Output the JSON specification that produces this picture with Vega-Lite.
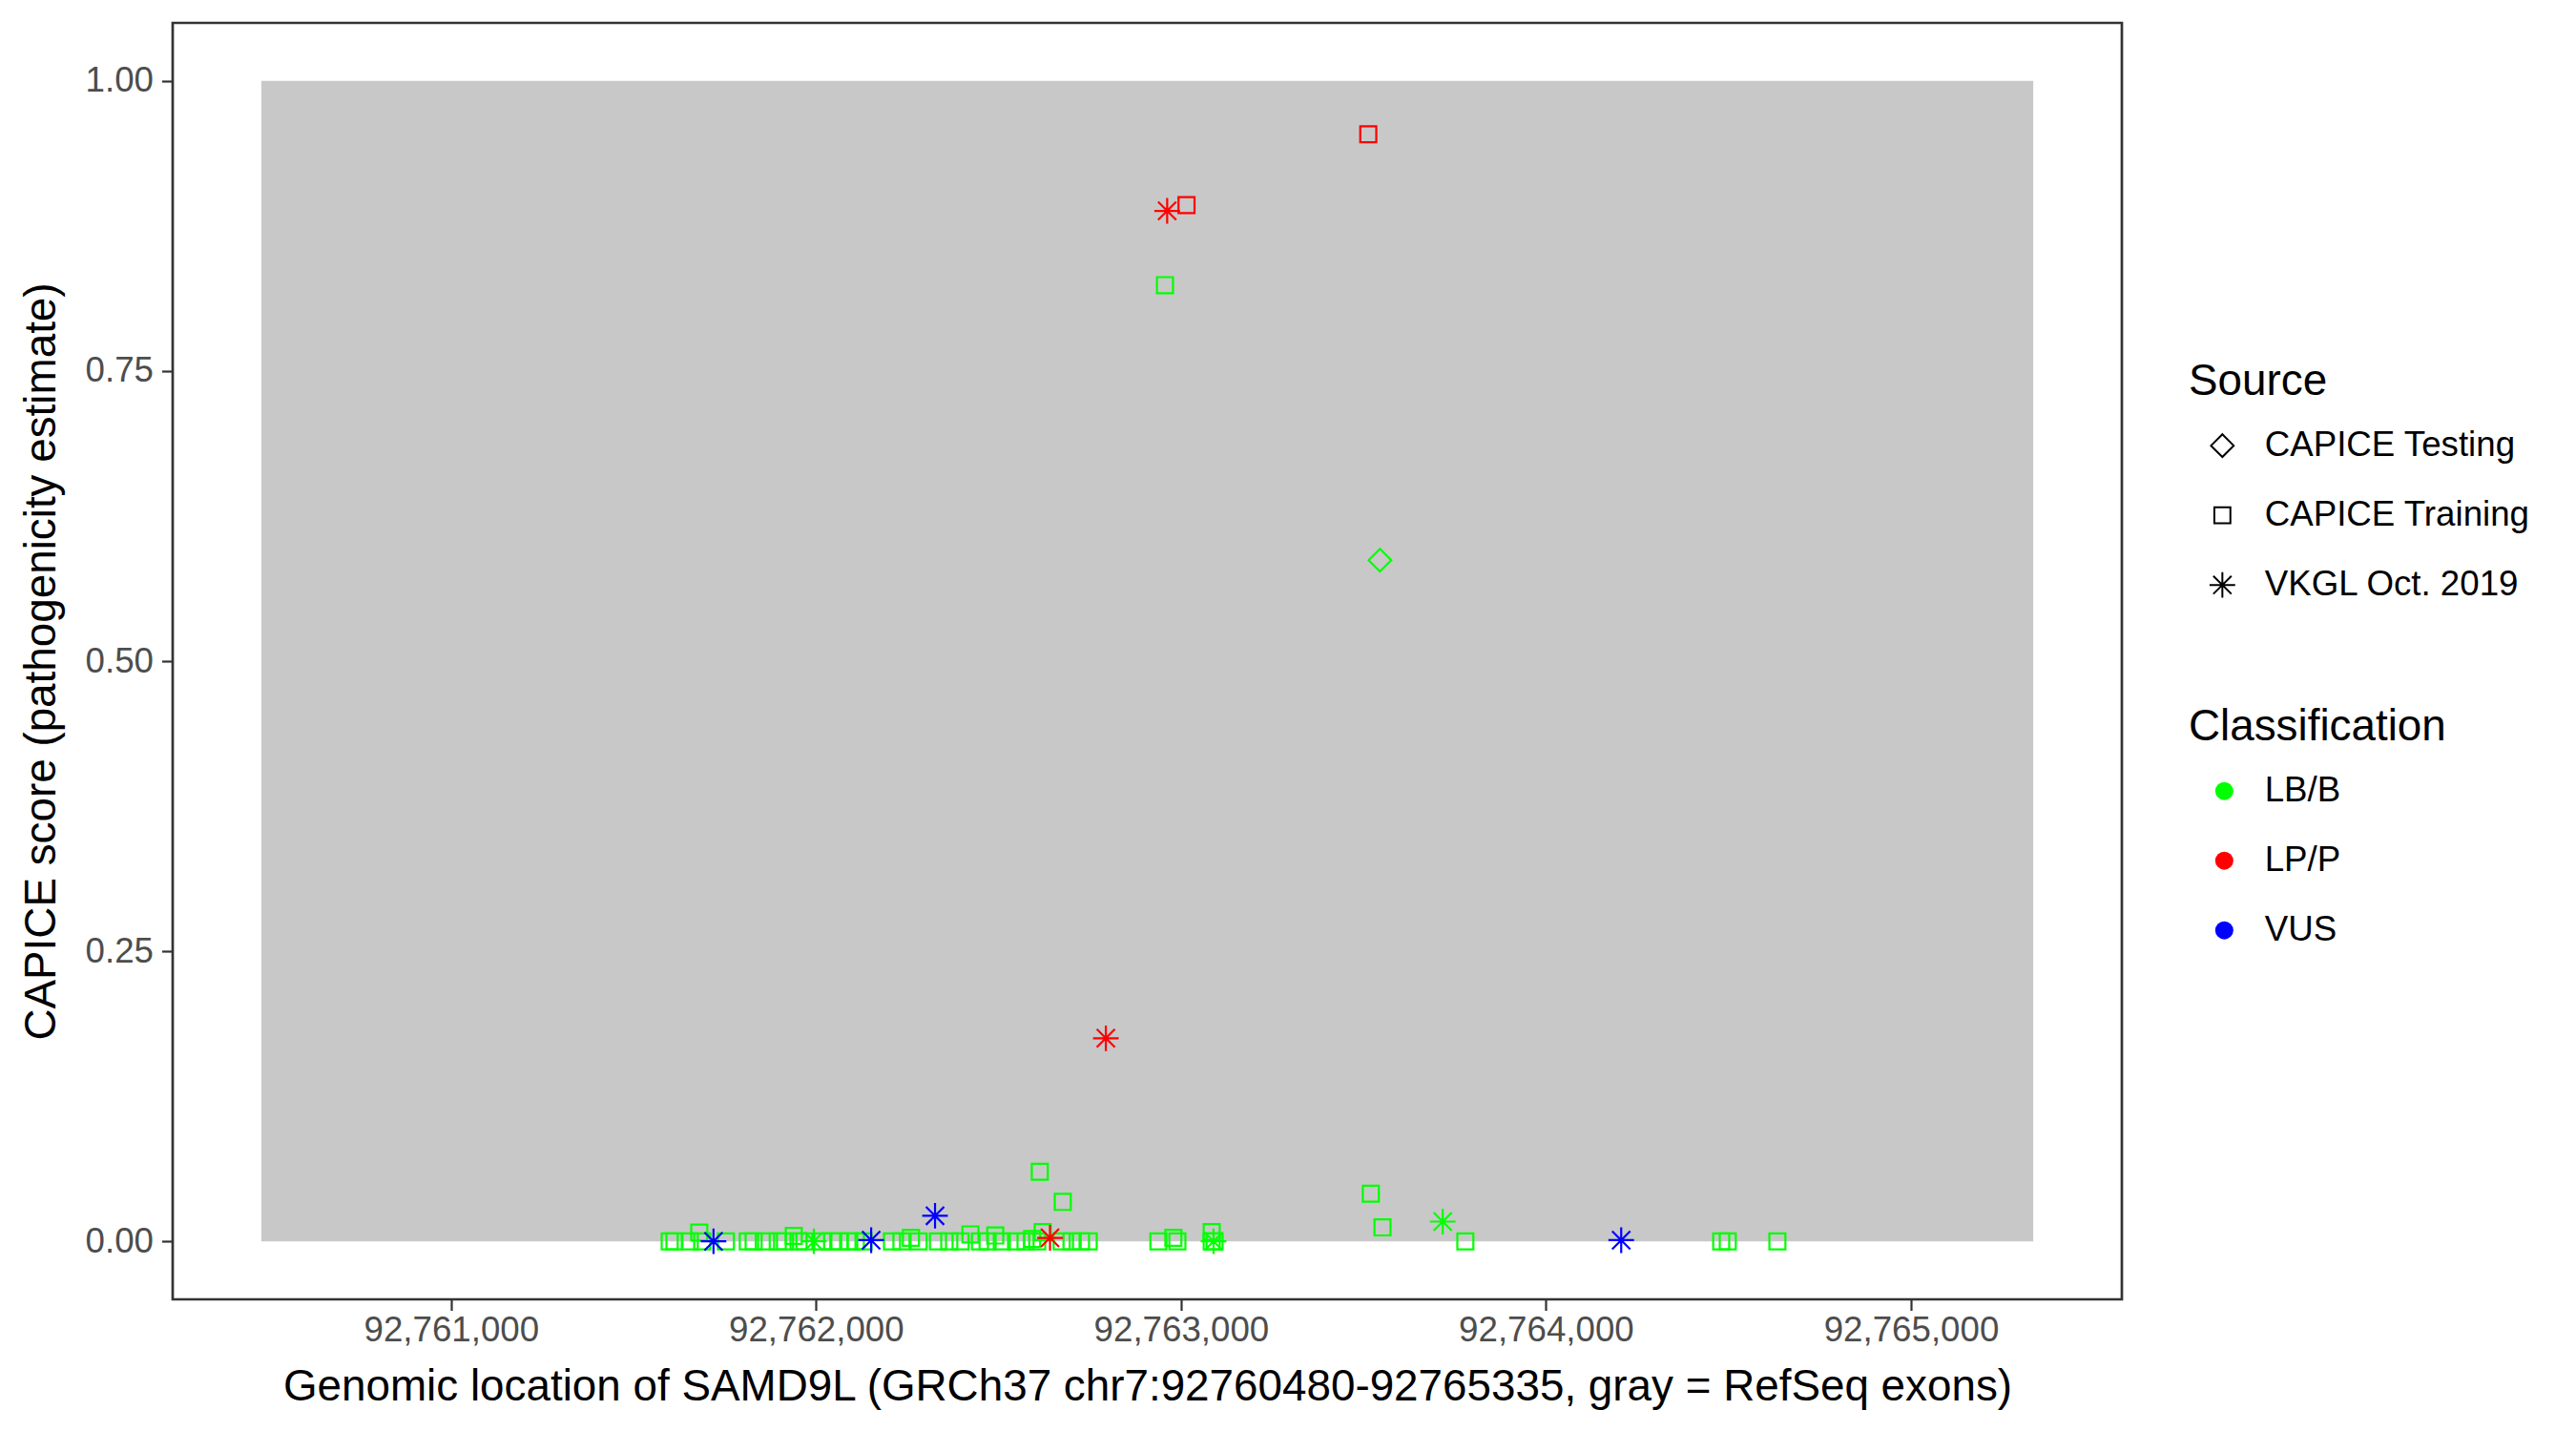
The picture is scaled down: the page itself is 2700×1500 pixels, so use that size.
{
  "$schema": "https://vega.github.io/schema/vega-lite/v6.json",
  "width": 2043,
  "height": 1338,
  "autosize": {"type": "none"},
  "padding": {"left": 181, "top": 24, "right": 476, "bottom": 138},
  "background": "white",
  "config": {
    "font": "Liberation Sans",
    "view": {"stroke": "#333333", "strokeWidth": 2.7},
    "axis": {
      "domain": false,
      "grid": false,
      "tickColor": "#333333",
      "tickWidth": 2.2,
      "tickSize": 11.5,
      "labelFont": "Liberation Sans",
      "labelFontSize": 36.7,
      "labelColor": "#4D4D4D",
      "labelPadding": 9,
      "labelLimit": 0,
      "titleFont": "Liberation Sans",
      "titleFontSize": 45.8,
      "titleColor": "black",
      "titleFontWeight": "normal",
      "titleLimit": 0
    },
    "legend": {
      "titleFont": "Liberation Sans",
      "labelFont": "Liberation Sans",
      "titleFontSize": 45.8,
      "titleFontWeight": "normal",
      "titleColor": "black",
      "titleLimit": 0,
      "labelFontSize": 36.7,
      "labelColor": "black",
      "labelLimit": 0,
      "padding": 0,
      "symbolBaseStrokeColor": "black",
      "symbolBaseFillColor": "transparent",
      "symbolStrokeWidth": 2
    }
  },
  "datasets": {
    "exons": [{"start": 92760480, "end": 92765335, "ymin": 0, "ymax": 1}],
    "variants": [
      {"position": 92761599, "score": 0, "source": "CAPICE Training", "classification": "LB/B"},
      {"position": 92761612, "score": 0, "source": "CAPICE Training", "classification": "LB/B"},
      {"position": 92761654, "score": 0, "source": "CAPICE Training", "classification": "LB/B"},
      {"position": 92761680, "score": 0.0075, "source": "CAPICE Training", "classification": "LB/B"},
      {"position": 92761688, "score": 0, "source": "CAPICE Training", "classification": "LB/B"},
      {"position": 92761753, "score": 0, "source": "CAPICE Training", "classification": "LB/B"},
      {"position": 92761813, "score": 0, "source": "CAPICE Training", "classification": "LB/B"},
      {"position": 92761829, "score": 0, "source": "CAPICE Training", "classification": "LB/B"},
      {"position": 92761863, "score": 0, "source": "CAPICE Training", "classification": "LB/B"},
      {"position": 92761895, "score": 0, "source": "CAPICE Training", "classification": "LB/B"},
      {"position": 92761915, "score": 0, "source": "CAPICE Training", "classification": "LB/B"},
      {"position": 92761939, "score": 0.0047, "source": "CAPICE Training", "classification": "LB/B"},
      {"position": 92761952, "score": 0, "source": "CAPICE Training", "classification": "LB/B"},
      {"position": 92761968, "score": 0, "source": "CAPICE Training", "classification": "LB/B"},
      {"position": 92762017, "score": 0, "source": "CAPICE Training", "classification": "LB/B"},
      {"position": 92762044, "score": 0, "source": "CAPICE Training", "classification": "LB/B"},
      {"position": 92762064, "score": 0, "source": "CAPICE Training", "classification": "LB/B"},
      {"position": 92762091, "score": 0, "source": "CAPICE Training", "classification": "LB/B"},
      {"position": 92762109, "score": 0, "source": "CAPICE Training", "classification": "LB/B"},
      {"position": 92762130, "score": 0, "source": "CAPICE Training", "classification": "LB/B"},
      {"position": 92762208, "score": 0, "source": "CAPICE Training", "classification": "LB/B"},
      {"position": 92762234, "score": 0, "source": "CAPICE Training", "classification": "LB/B"},
      {"position": 92762260, "score": 0.003, "source": "CAPICE Training", "classification": "LB/B"},
      {"position": 92762281, "score": 0, "source": "CAPICE Training", "classification": "LB/B"},
      {"position": 92762334, "score": 0, "source": "CAPICE Training", "classification": "LB/B"},
      {"position": 92762365, "score": 0, "source": "CAPICE Training", "classification": "LB/B"},
      {"position": 92762396, "score": 0, "source": "CAPICE Training", "classification": "LB/B"},
      {"position": 92762423, "score": 0.006, "source": "CAPICE Training", "classification": "LB/B"},
      {"position": 92762449, "score": 0, "source": "CAPICE Training", "classification": "LB/B"},
      {"position": 92762470, "score": 0, "source": "CAPICE Training", "classification": "LB/B"},
      {"position": 92762491, "score": 0.005, "source": "CAPICE Training", "classification": "LB/B"},
      {"position": 92762509, "score": 0, "source": "CAPICE Training", "classification": "LB/B"},
      {"position": 92762548, "score": 0, "source": "CAPICE Training", "classification": "LB/B"},
      {"position": 92762574, "score": 0, "source": "CAPICE Training", "classification": "LB/B"},
      {"position": 92762592, "score": 0.002, "source": "CAPICE Training", "classification": "LB/B"},
      {"position": 92762606, "score": 0, "source": "CAPICE Training", "classification": "LB/B"},
      {"position": 92762621, "score": 0.008, "source": "CAPICE Training", "classification": "LB/B"},
      {"position": 92762613, "score": 0.06, "source": "CAPICE Training", "classification": "LB/B"},
      {"position": 92762676, "score": 0.034, "source": "CAPICE Training", "classification": "LB/B"},
      {"position": 92762673, "score": 0, "source": "CAPICE Training", "classification": "LB/B"},
      {"position": 92762700, "score": 0, "source": "CAPICE Training", "classification": "LB/B"},
      {"position": 92762726, "score": 0, "source": "CAPICE Training", "classification": "LB/B"},
      {"position": 92762747, "score": 0, "source": "CAPICE Training", "classification": "LB/B"},
      {"position": 92762938, "score": 0, "source": "CAPICE Training", "classification": "LB/B"},
      {"position": 92762979, "score": 0.003, "source": "CAPICE Training", "classification": "LB/B"},
      {"position": 92762990, "score": 0, "source": "CAPICE Training", "classification": "LB/B"},
      {"position": 92763084, "score": 0.008, "source": "CAPICE Training", "classification": "LB/B"},
      {"position": 92763084, "score": 0, "source": "CAPICE Training", "classification": "LB/B"},
      {"position": 92763092, "score": 0, "source": "CAPICE Training", "classification": "LB/B"},
      {"position": 92762956, "score": 0.824, "source": "CAPICE Training", "classification": "LB/B"},
      {"position": 92763520, "score": 0.041, "source": "CAPICE Training", "classification": "LB/B"},
      {"position": 92763552, "score": 0.012, "source": "CAPICE Training", "classification": "LB/B"},
      {"position": 92763779, "score": 0, "source": "CAPICE Training", "classification": "LB/B"},
      {"position": 92764480, "score": 0, "source": "CAPICE Training", "classification": "LB/B"},
      {"position": 92764498, "score": 0, "source": "CAPICE Training", "classification": "LB/B"},
      {"position": 92764634, "score": 0, "source": "CAPICE Training", "classification": "LB/B"},
      {"position": 92763015, "score": 0.893, "source": "CAPICE Training", "classification": "LP/P"},
      {"position": 92763513, "score": 0.954, "source": "CAPICE Training", "classification": "LP/P"},
      {"position": 92763545, "score": 0.587, "source": "CAPICE Testing", "classification": "LB/B"},
      {"position": 92761994, "score": 0, "source": "VKGL Oct. 2019", "classification": "LB/B"},
      {"position": 92763089, "score": 0, "source": "VKGL Oct. 2019", "classification": "LB/B"},
      {"position": 92763717, "score": 0.017, "source": "VKGL Oct. 2019", "classification": "LB/B"},
      {"position": 92762962, "score": 0.888, "source": "VKGL Oct. 2019", "classification": "LP/P"},
      {"position": 92762794, "score": 0.175, "source": "VKGL Oct. 2019", "classification": "LP/P"},
      {"position": 92762641, "score": 0.003, "source": "VKGL Oct. 2019", "classification": "LP/P"},
      {"position": 92761719, "score": 0, "source": "VKGL Oct. 2019", "classification": "VUS"},
      {"position": 92762151, "score": 0.001, "source": "VKGL Oct. 2019", "classification": "VUS"},
      {"position": 92762326, "score": 0.022, "source": "VKGL Oct. 2019", "classification": "VUS"},
      {"position": 92764206, "score": 0.001, "source": "VKGL Oct. 2019", "classification": "VUS"}
    ]
  },
  "layer": [
    {
      "data": {"name": "exons"},
      "mark": {"type": "rect", "color": "#C8C8C8"},
      "encoding": {
        "x": {
          "field": "start", "type": "quantitative",
          "scale": {"domain": [92760237.25, 92765577.75], "nice": false, "zero": false},
          "axis": {
            "title": "Genomic location of SAMD9L (GRCh37 chr7:92760480-92765335, gray = RefSeq exons)",
            "values": [92761000, 92762000, 92763000, 92764000, 92765000],
            "format": ",d",
            "labelFlush": false,
            "labelOverlap": false,
            "labelPadding": 3,
            "titleY": 105,
            "titleBaseline": "alphabetic"
          }
        },
        "x2": {"field": "end"},
        "y": {
          "field": "ymin", "type": "quantitative",
          "scale": {"domain": [-0.05, 1.05], "nice": false, "zero": false},
          "axis": {
            "title": "CAPICE score (pathogenicity estimate)",
            "values": [0, 0.25, 0.5, 0.75, 1],
            "format": ".2f",
            "titleX": -124,
            "titleBaseline": "alphabetic"
          }
        },
        "y2": {"field": "ymax"}
      }
    },
    {
      "data": {"name": "variants"},
      "mark": {"type": "circle", "filled": true, "opacity": 1, "size": 0},
      "encoding": {
        "x": {"field": "position", "type": "quantitative", "scale": {"domain": [92760237.25, 92765577.75], "nice": false, "zero": false}},
        "y": {"field": "score", "type": "quantitative", "scale": {"domain": [-0.05, 1.05], "nice": false, "zero": false}},
        "color": {
          "field": "classification", "type": "nominal",
          "scale": {"domain": ["LB/B", "LP/P", "VUS"], "range": ["#00FF00", "#FF0000", "#0000FF"]},
          "legend": {
            "title": "Classification",
            "orient": "none",
            "legendX": 2113,
            "legendY": 716,
            "symbolType": "circle",
            "symbolSize": 361,
            "symbolOpacity": 1,
            "symbolStrokeWidth": 0,
            "titlePadding": 25,
            "rowPadding": 35,
            "symbolOffset": 19,
            "labelOffset": 24
          }
        }
      }
    },
    {
      "data": {"name": "variants"},
      "mark": {"type": "point", "filled": false, "strokeWidth": 2.2, "opacity": 1, "size": 576},
      "encoding": {
        "x": {"field": "position", "type": "quantitative", "scale": {"domain": [92760237.25, 92765577.75], "nice": false, "zero": false}},
        "y": {"field": "score", "type": "quantitative", "scale": {"domain": [-0.05, 1.05], "nice": false, "zero": false}},
        "shape": {
          "field": "source", "type": "nominal",
          "scale": {
            "domain": ["CAPICE Testing", "CAPICE Training", "VKGL Oct. 2019"],
            "range": [
              "M-0.99,0L0,-0.99L0.99,0L0,0.99Z",
              "M-0.7,-0.7H0.7V0.7H-0.7Z",
              "M-1.12,0H1.12M0,-1.12V1.12M-0.79,-0.79L0.79,0.79M-0.79,0.79L0.79,-0.79"
            ]
          },
          "legend": {
            "title": "Source",
            "orient": "none",
            "legendX": 2113,
            "legendY": 354,
            "symbolSize": 576,
            "symbolStrokeWidth": 2,
            "symbolStrokeColor": "black",
            "symbolFillColor": "transparent",
            "titlePadding": 25,
            "rowPadding": 35,
            "symbolOffset": 17,
            "labelOffset": 26
          }
        },
        "color": {
          "field": "classification", "type": "nominal",
          "scale": {"domain": ["LB/B", "LP/P", "VUS"], "range": ["#00FF00", "#FF0000", "#0000FF"]},
          "legend": null
        }
      }
    }
  ]
}
